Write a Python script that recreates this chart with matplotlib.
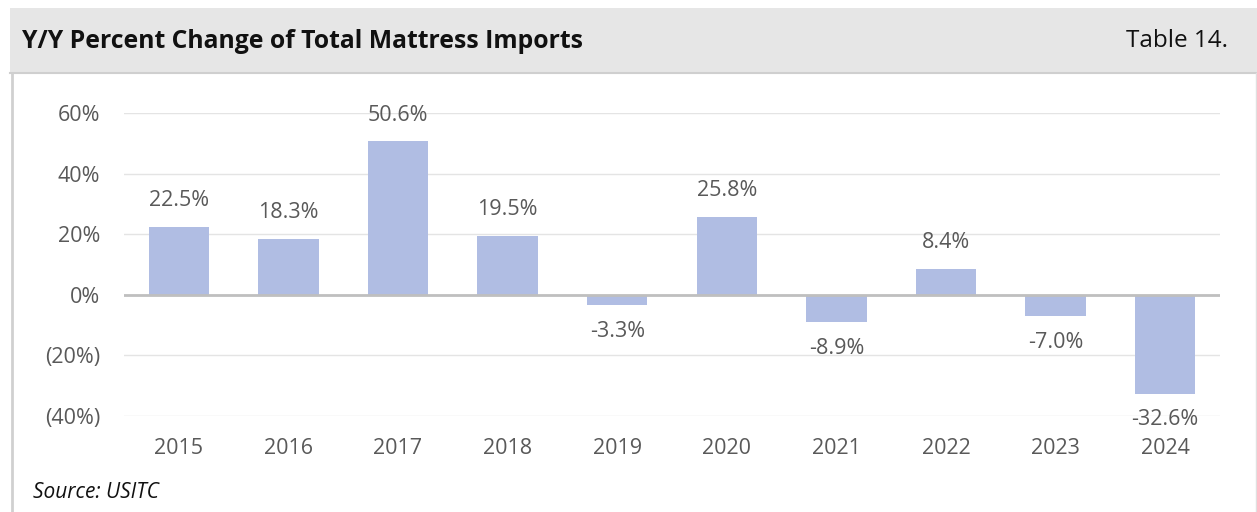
import matplotlib.pyplot as plt
import numpy as np

years = ["2015", "2016", "2017", "2018", "2019", "2020", "2021", "2022", "2023", "2024"]
pct_change = [22.5, 18.3, 50.6, 19.5, -3.3, 25.8, -8.9, 8.4, -7.0, -32.6]
y_ticks = [-40, -20, 0, 20, 40, 60]
y_tick_labels = ["(40%)", "(20%)", "0%", "20%", "40%", "60%"]

W, H = 1257, 512
bar_color = "#b0bde3"
text_color = "#595959"
font = ["Open Sans", "DejaVu Sans"]

fig = plt.figure(figsize=(W / 100, H / 100), dpi=100)
fig.patch.set_facecolor("white")

# header band and panel border (pixel coords -> figure fraction)
def px(x, y):
    return x / W, 1 - y / H

hdr = plt.Rectangle(px(10, 73), (W - 10) / W, 65 / H, transform=fig.transFigure,
                    facecolor="#e6e6e6", edgecolor="none", zorder=0)
fig.add_artist(hdr)
fig.add_artist(plt.Line2D([10 / W, 1], [1 - 73 / H] * 2, transform=fig.transFigure,
                          color="#cfcfcf", lw=1.5))
fig.add_artist(plt.Line2D([12 / W] * 2, [0, 1 - 73 / H], transform=fig.transFigure,
                          color="#d0d0d0", lw=2))
fig.add_artist(plt.Line2D([1255.5 / W] * 2, [0, 1 - 73 / H], transform=fig.transFigure,
                          color="#e0e0e0", lw=1))

fig.text(*px(22, 42), "Y/Y Percent Change of Total Mattress Imports", family=font,
         fontsize=17.8, fontweight="bold", color="#111111", va="center", ha="left")
fig.text(*px(1228, 41), "Table 14.", family=font, fontsize=17.5,
         color="#111111", va="center", ha="right")
fig.text(*px(33, 492), "Source: USITC", family=font, fontsize=15,
         style="italic", color="#111111", va="center", ha="left")

ax_left, ax_right, ax_top, ax_bottom = 124, 1220, 113, 416
ax = fig.add_axes([ax_left / W, 1 - ax_bottom / H, (ax_right - ax_left) / W,
                   (ax_bottom - ax_top) / H])
x = np.arange(len(years))
bars = ax.bar(x, pct_change, width=0.55, color=bar_color, zorder=2)

ax.set_xlim(-0.5, len(years) - 0.5)
ax.set_ylim(-40, 60)
ax.set_yticks(y_ticks)
ax.set_yticklabels(y_tick_labels, family=font, fontsize=15.5, color=text_color)
ax.tick_params(axis="y", length=0, pad=17)
ax.set_xticks([])
for s in ax.spines.values():
    s.set_visible(False)
ax.grid(axis="y", color="#e4e4e4", lw=1, zorder=0)
ax.axhline(0, color="#bfbfbf", lw=2, zorder=3)

# category labels sit below the bottom gridline
for xi, yr in zip(x, years):
    ax.annotate(yr, (xi, -40), xytext=(0, -23.5), textcoords="offset points",
                ha="center", va="center", family=font, fontsize=15.5, color=text_color)

for xi, v in zip(x, pct_change):
    off = 19 if v >= 0 else -19
    ax.annotate(f"{v:.1f}%", (xi, v), xytext=(0, off), textcoords="offset points",
                ha="center", va="center", family=font, fontsize=15.5, color=text_color)

fig.savefig("out.png", dpi=100)
